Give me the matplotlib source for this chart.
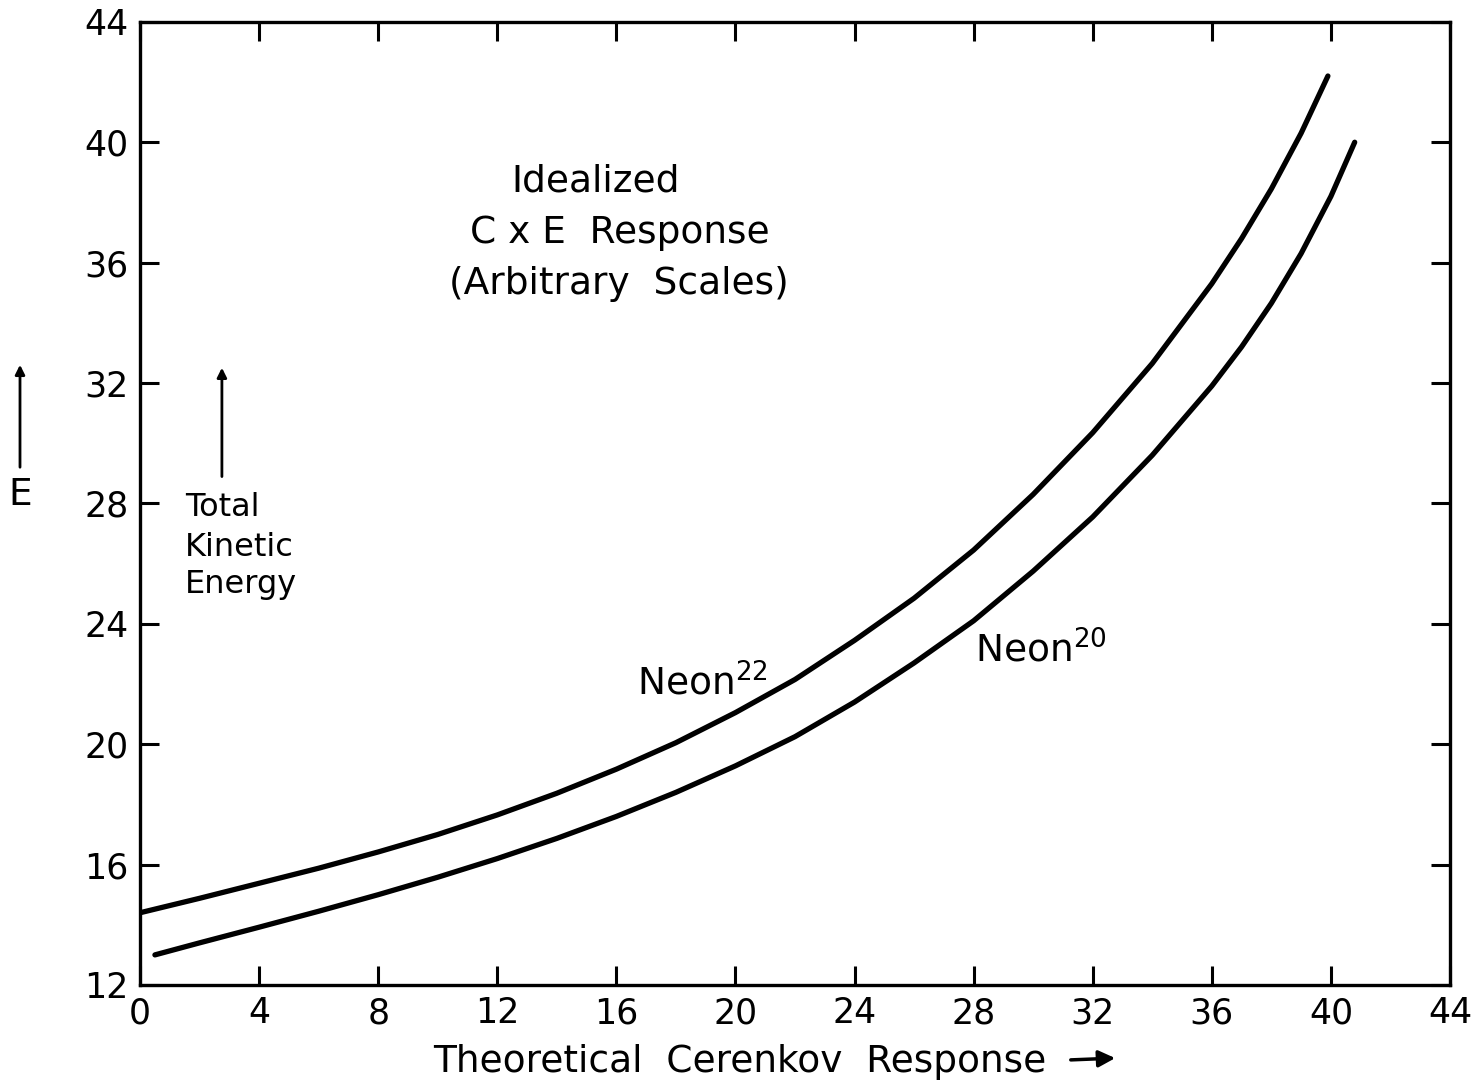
import numpy as np
import matplotlib
matplotlib.use("Agg")
import matplotlib.pyplot as plt

plt.rcParams['font.family'] = ['DejaVu Sans']
plt.rcParams['mathtext.default'] = 'regular'

# Neon-22 (upper curve)
ne22_x = [0, 2, 4, 6, 8, 10, 12, 14, 16, 18, 20, 22, 24, 26, 28, 30, 32, 34, 36, 37, 38, 39, 39.9]
ne22_y = [14.4, 14.88, 15.38, 15.88, 16.42, 17.0, 17.65, 18.37, 19.17, 20.05, 21.05, 22.15, 23.45, 24.85, 26.45, 28.3, 30.35, 32.65, 35.3, 36.8, 38.45, 40.3, 42.2]

# Neon-20 (lower curve)
ne20_x = [0.5, 2, 4, 6, 8, 10, 12, 14, 16, 18, 20, 22, 24, 26, 28, 30, 32, 34, 36, 37, 38, 39, 40, 40.8]
ne20_y = [13.0, 13.4, 13.92, 14.45, 15.0, 15.58, 16.2, 16.87, 17.6, 18.4, 19.28, 20.25, 21.4, 22.7, 24.1, 25.75, 27.55, 29.6, 31.9, 33.2, 34.65, 36.3, 38.2, 40.0]

x_ticks = [0, 4, 8, 12, 16, 20, 24, 28, 32, 36, 40, 44]
y_ticks = [12, 16, 20, 24, 28, 32, 36, 40, 44]

fig = plt.figure(figsize=(14.71, 10.92), dpi=100)
ax = fig.add_axes([0.0952, 0.098, 0.8905, 0.882])

ax.plot(ne22_x, ne22_y, color='black', lw=3.8, solid_capstyle='round', solid_joinstyle='round')
ax.plot(ne20_x, ne20_y, color='black', lw=3.8, solid_capstyle='round', solid_joinstyle='round')

ax.set_xlim(0, 44)
ax.set_ylim(12, 44)
ax.set_xticks(x_ticks)
ax.set_yticks(y_ticks)
ax.set_xticklabels([str(v) for v in x_ticks])
ax.set_yticklabels([str(v) for v in y_ticks])
ax.tick_params(direction='in', length=14, width=2.2, labelsize=25,
               top=True, right=True, pad=8)
for s in ax.spines.values():
    s.set_linewidth(2.4)

# x label as figure text so it stays inside the canvas
fig.text(740 / 1471, 1 - 1062 / 1092, 'Theoretical  Cerenkov  Response',
         fontsize=27, ha='center', va='center')

# arrow after x label
fig.add_artist(matplotlib.patches.FancyArrowPatch(
    (1068 / 1471, 1 - 1060 / 1092), (1118 / 1471, 1 - 1058 / 1092),
    transform=fig.transFigure, arrowstyle='-|>', mutation_scale=25,
    color='black', lw=2.5))

# E label with upward arrow
fig.text(20 / 1471, 1 - 495 / 1092, 'E', fontsize=27, ha='center', va='center')
fig.add_artist(matplotlib.patches.FancyArrowPatch(
    (20 / 1471, 1 - 470 / 1092), (20 / 1471, 1 - 362 / 1092),
    transform=fig.transFigure, arrowstyle='-|>', mutation_scale=14,
    color='black', lw=2))

# annotations
ax.text(15.3, 38.7, 'Idealized', fontsize=27, ha='center', va='center')
ax.text(16.1, 37.0, 'C x E  Response', fontsize=27, ha='center', va='center')
ax.text(16.1, 35.3, '(Arbitrary  Scales)', fontsize=27, ha='center', va='center')

ax.text(1.5, 27.85, 'Total', fontsize=23, ha='left', va='center')
ax.text(1.5, 26.55, 'Kinetic', fontsize=23, ha='left', va='center')
ax.text(1.5, 25.3, 'Energy', fontsize=23, ha='left', va='center')
ax.annotate('', xy=(2.75, 32.6), xytext=(2.75, 28.8),
            arrowprops=dict(arrowstyle='-|>', color='black', lw=2, mutation_scale=14))

ax.text(16.7, 22.0, r'Neon$^{22}$', fontsize=27, ha='left', va='center')
ax.text(28.05, 23.1, r'Neon$^{20}$', fontsize=27, ha='left', va='center')

fig.savefig('out.png', dpi=100)
